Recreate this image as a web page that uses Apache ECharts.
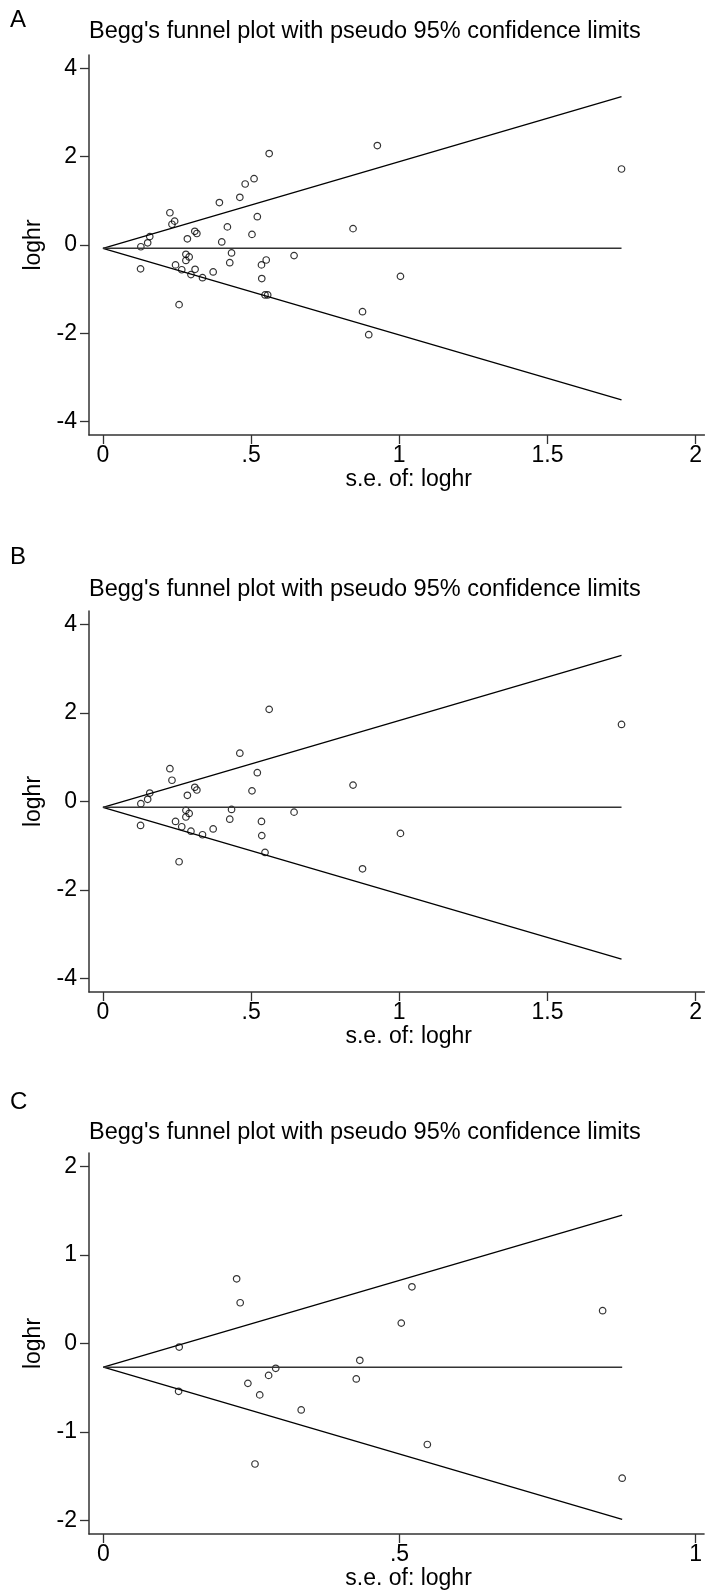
<!DOCTYPE html>
<html>
<head>
<meta charset="utf-8">
<script src="https://cdn.jsdelivr.net/npm/echarts@6/dist/echarts.min.js"></script>
<style>
html,body{margin:0;padding:0;background:#fff;}
#chart{width:705px;height:1594px;}
</style>
</head>
<body>
<div id="chart"></div>
<script>
// ---------- Data ----------
const titleText = "Begg's funnel plot with pseudo 95% confidence limits";
const panelLetters = ['A', 'B', 'C'];
const xTitle = 's.e. of: loghr';
const yTitle = 'loghr';

// Panel A
const seA = [0.561,0.510,0.480,0.462,0.393,0.226,0.242,0.233,0.521,0.420,0.310,0.317,0.503,0.285,0.401,0.158,0.151,0.128,0.127,0.280,0.291,0.280,0.434,0.428,0.245,0.266,0.311,0.297,0.336,0.372,0.551,0.535,0.536,0.547,0.556,0.257,0.645,0.926,1.750,0.844,1.004,0.876,0.897];
const logA = [2.07,1.50,1.38,1.08,0.96,0.73,0.54,0.47,0.64,0.41,0.31,0.26,0.24,0.14,0.07,0.19,0.05,-0.04,-0.54,-0.21,-0.27,-0.35,-0.18,-0.40,-0.45,-0.56,-0.55,-0.67,-0.74,-0.61,-0.34,-0.45,-0.76,-1.13,-1.13,-1.35,-0.24,2.25,1.72,0.37,-0.71,-1.51,-2.03];
const funnelA = {pooled: -0.074, seMax: 1.75, upper: 3.356, lower: -3.504};

// Panel B
const seB = [0.561,0.462,0.226,0.233,0.521,0.310,0.317,0.503,0.285,0.158,0.151,0.128,0.127,0.280,0.291,0.280,0.434,0.428,0.245,0.266,0.297,0.336,0.372,0.535,0.536,0.547,0.257,0.645,1.750,0.844,1.004,0.876];
const logB = [2.08,1.09,0.74,0.48,0.65,0.32,0.26,0.24,0.14,0.19,0.05,-0.05,-0.54,-0.20,-0.27,-0.35,-0.18,-0.40,-0.45,-0.57,-0.67,-0.75,-0.62,-0.45,-0.77,-1.15,-1.36,-0.24,1.74,0.37,-0.72,-1.52];
const funnelB = {pooled: -0.13, seMax: 1.75, upper: 3.30, lower: -3.56};

// Panel C
const seC = [0.225,0.231,0.128,0.127,0.291,0.279,0.244,0.264,0.334,0.256,0.433,0.427,0.521,0.503,0.547,0.843,0.876];
const logC = [0.73,0.46,-0.04,-0.54,-0.28,-0.36,-0.45,-0.58,-0.75,-1.36,-0.19,-0.40,0.64,0.23,-1.14,0.37,-1.52];
const funnelC = {pooled: -0.268, seMax: 0.876, upper: 1.449, lower: -1.985};

// Axis ticks
const xTicksAB = [0, 0.5, 1, 1.5, 2];
const yTicksAB = [-4, -2, 0, 2, 4];
const xTicksC = [0, 0.5, 1];
const yTicksC = [-2, -1, 0, 1, 2];

// ---------- Layout ----------
const FONT = "'Liberation Sans', Arial, Helvetica, sans-serif";
const panels = [
  {se: seA, lg: logA, f: funnelA, xt: xTicksAB, yt: yTicksAB, xr: [-0.047, 2.03], yr: [-4.3, 4.3], top: 55, bottom: 435, letterTop: 8, titleTop: 20},
  {se: seB, lg: logB, f: funnelB, xt: xTicksAB, yt: yTicksAB, xr: [-0.047, 2.03], yr: [-4.3, 4.3], top: 611, bottom: 992, letterTop: 545, titleTop: 578},
  {se: seC, lg: logC, f: funnelC, xt: xTicksC, yt: yTicksC, xr: [-0.0243, 1.0143], yr: [-2.15, 2.15], top: 1153, bottom: 1534, letterTop: 1090, titleTop: 1121}
];

const axisColor = '#333';
const fmt = v => (v === 0 ? '0' : String(v).replace(/^0\./, '.').replace(/^-0\./, '-.'));

const option = {
  animation: false,
  backgroundColor: '#fff',
  title: [],
  grid: [],
  xAxis: [],
  yAxis: [],
  series: []
};

panels.forEach((p, i) => {
  option.title.push({
    text: panelLetters[i], left: 10, top: p.letterTop, padding: 0,
    textStyle: {fontFamily: FONT, fontSize: 24, fontWeight: 'normal', color: '#000'}
  });
  option.title.push({
    text: titleText, left: 89, top: p.titleTop, padding: 0,
    textStyle: {fontFamily: FONT, fontSize: 23.5, fontWeight: 'normal', color: '#000'}
  });
  option.grid.push({left: 89, right: 0, top: p.top, height: p.bottom - p.top});
  option.xAxis.push({
    gridIndex: i, type: 'value', min: p.xr[0], max: p.xr[1],
    axisLine: {onZero: false, lineStyle: {color: axisColor, width: 1.5}},
    axisTick: {customValues: p.xt, length: 9, lineStyle: {color: axisColor, width: 1.3}},
    axisLabel: {customValues: p.xt, formatter: fmt, fontFamily: FONT, fontSize: 23, color: '#000', margin: 9},
    splitLine: {show: false},
    name: xTitle, nameLocation: 'middle', nameGap: 31,
    nameTextStyle: {fontFamily: FONT, fontSize: 23, color: '#000', padding: [0, 0, 0, 24]}
  });
  option.yAxis.push({
    gridIndex: i, type: 'value', min: p.yr[0], max: p.yr[1],
    axisLine: {show: true, onZero: false, lineStyle: {color: axisColor, width: 1.5}},
    axisTick: {show: true, customValues: p.yt, length: 9, lineStyle: {color: axisColor, width: 1.3}},
    axisLabel: {customValues: p.yt, formatter: fmt, fontFamily: FONT, fontSize: 23, color: '#000', margin: 12},
    splitLine: {show: false},
    name: yTitle, nameLocation: 'middle', nameGap: 36, nameRotate: 90,
    nameTextStyle: {fontFamily: FONT, fontSize: 23, color: '#000'}
  });
  const lineStyle = {color: '#000', width: 1.3};
  const f = p.f;
  option.series.push({
    type: 'line', xAxisIndex: i, yAxisIndex: i, symbol: 'none', silent: true,
    lineStyle, data: [[0, f.pooled], [f.seMax, f.upper]]
  });
  option.series.push({
    type: 'line', xAxisIndex: i, yAxisIndex: i, symbol: 'none', silent: true,
    lineStyle, data: [[0, f.pooled], [f.seMax, f.lower]]
  });
  option.series.push({
    type: 'line', xAxisIndex: i, yAxisIndex: i, symbol: 'none', silent: true,
    lineStyle: {color: '#333', width: 1.3}, data: [[0, f.pooled], [f.seMax, f.pooled]]
  });
  option.series.push({
    type: 'scatter', xAxisIndex: i, yAxisIndex: i, symbol: 'circle', symbolSize: 6.5,
    itemStyle: {color: 'rgba(255,255,255,0)', borderColor: '#000', borderWidth: 1.2},
    data: p.se.map((s, k) => [s, p.lg[k]])
  });
});

const chart = echarts.init(document.getElementById('chart'), null, {renderer: 'canvas'});
chart.setOption(option);
</script>
</body>
</html>
